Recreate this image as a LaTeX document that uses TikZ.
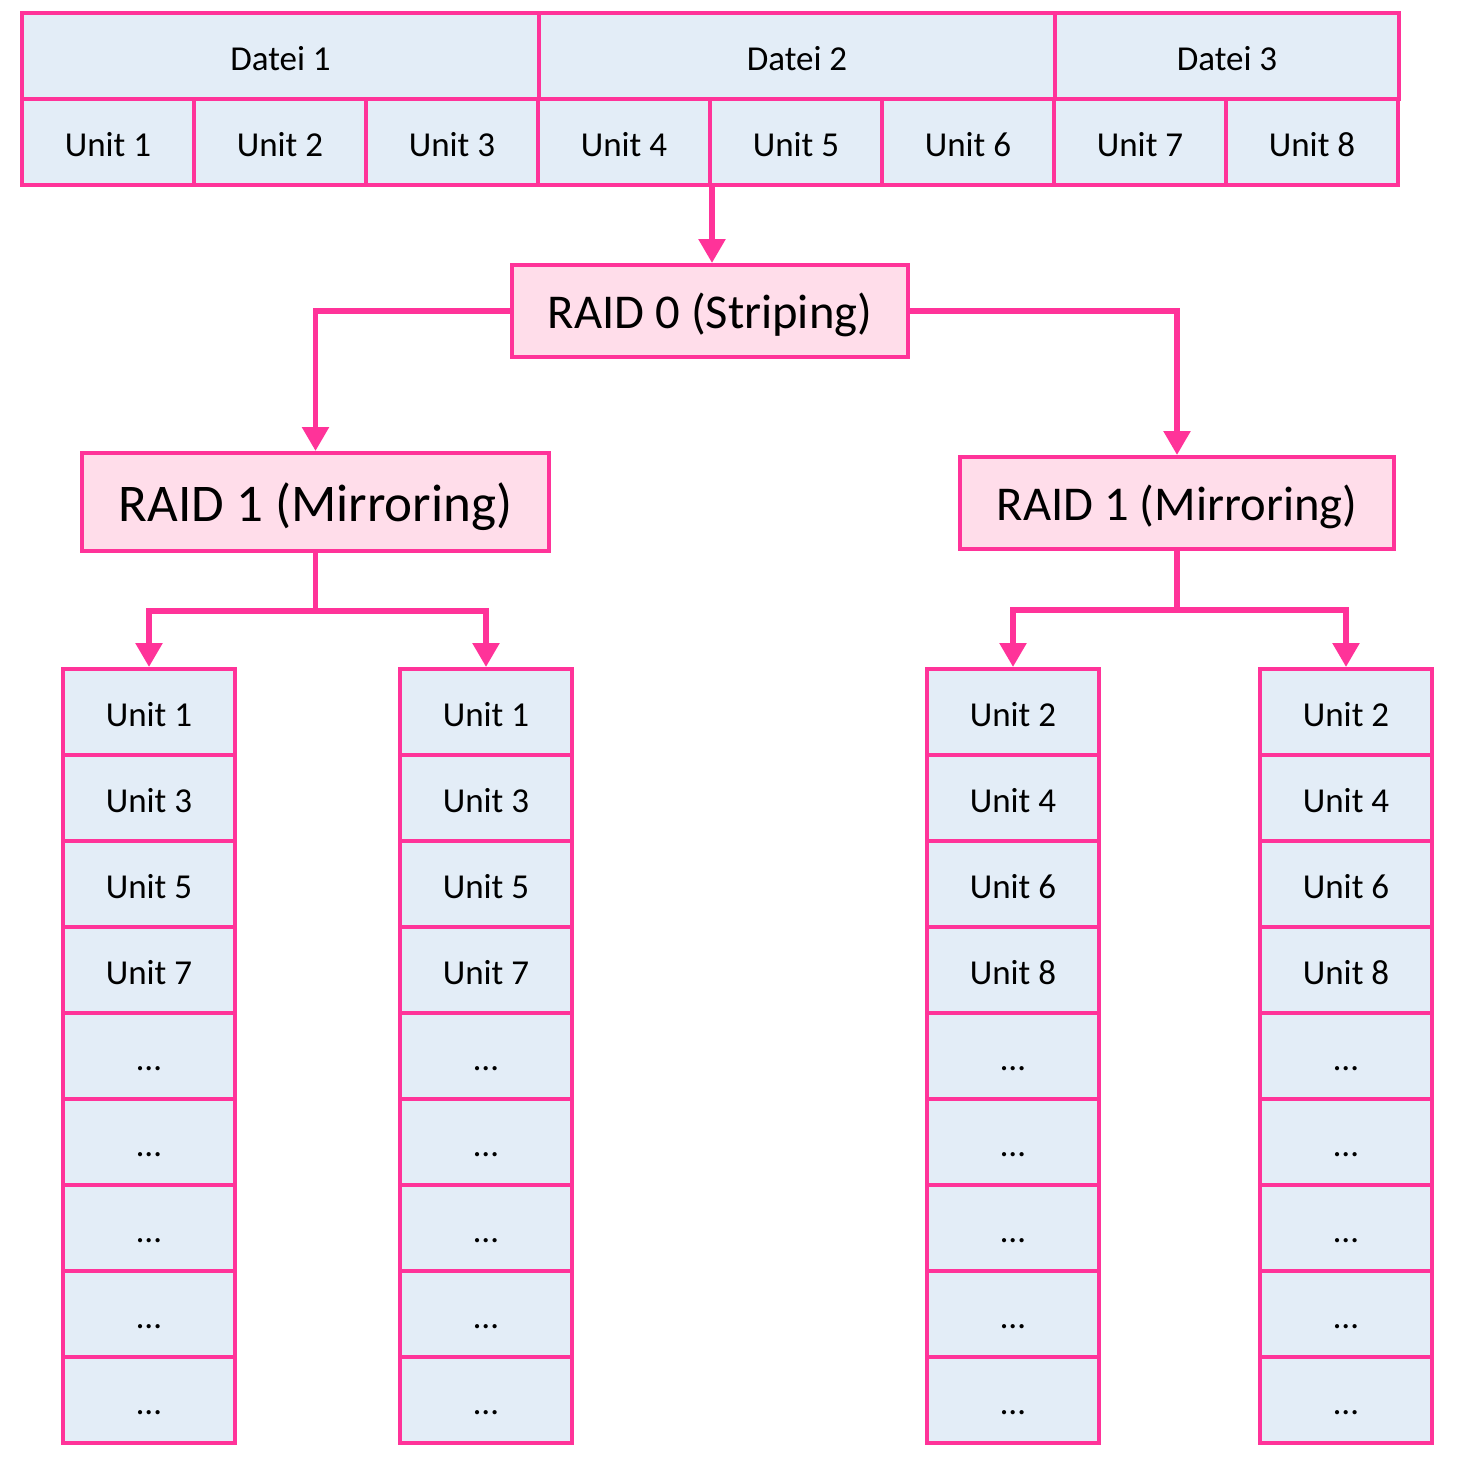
\documentclass[tikz,border=0pt]{standalone}
\usepackage{fontspec}
\setmainfont{Carlito}
\usetikzlibrary{arrows.meta}
\definecolor{pk}{HTML}{FF3399}
\definecolor{pkfill}{HTML}{FFDDEA}
\definecolor{blfill}{HTML}{E3EDF7}
\begin{document}
\begin{tikzpicture}[x=0.5pt,y=-0.5pt,
  cell/.style={draw=pk,fill=blfill,line width=2pt,inner sep=0pt,
    minimum height=43pt,font=\fontsize{17.5}{20}\selectfont,
    text height=14.1pt,text depth=0pt},
  raidbox/.style={draw=pk,fill=pkfill,line width=2pt,inner sep=0pt,text depth=0pt},
  arr/.style={draw=pk,line width=2.8pt,-{Triangle[width=13pt,length=12pt]}},
  conn/.style={draw=pk,line width=2.8pt}]
\useasboundingbox (0,0) rectangle (1466,1462);
% top: files
\node[cell,minimum width=258.5pt] (d1) at (280.5,56) {Datei 1};
\node[cell,minimum width=258pt] (d2) at (797,56) {Datei 2};
\node[cell,minimum width=172pt] (d3) at (1227,56) {Datei 3};
% top: units
\foreach \i in {1,...,8}{
  \node[cell,minimum width=86pt] (u\i) at ({22+172*(\i-0.5)},142) {Unit \i};
}
% RAID boxes
\node[raidbox,minimum width=198pt,minimum height=46pt,text height=17.4pt,
  font=\fontsize{24.3}{28}\selectfont] (r0) at (710,311) {RAID 0 (Striping)};
\node[raidbox,minimum width=233.5pt,minimum height=49pt,text height=19.7pt,
  font=\fontsize{26.5}{30}\selectfont] (r1l) at (315.5,502) {RAID 1 (Mirroring)};
\node[raidbox,minimum width=217pt,minimum height=46pt,text height=17.4pt,
  font=\fontsize{24.3}{28}\selectfont] (r1r) at (1177,503) {RAID 1 (Mirroring)};
% disk columns
\foreach \c/\x/\a/\b/\cc/\d in {1/149/1/3/5/7, 2/486/1/3/5/7, 3/1013/2/4/6/8, 4/1346/2/4/6/8}{
  \node[cell,minimum width=86pt] (c\c r1) at (\x,712) {Unit \a};
  \node[cell,minimum width=86pt] (c\c r2) at (\x,798) {Unit \b};
  \node[cell,minimum width=86pt] (c\c r3) at (\x,884) {Unit \cc};
  \node[cell,minimum width=86pt] (c\c r4) at (\x,970) {Unit \d};
  \foreach \k in {5,...,9}{
    \node[cell,minimum width=86pt] (c\c r\k) at (\x,{669+86*(\k-0.5)}) {…};
  }
}
% connectors
\draw[arr] (u4.south east) -- (u4.south east |- r0.north);
\draw[arr] (r0.west) -| (r1l.north);
\draw[arr] (r0.east) -| (r1r.north);
\path (r1l.south) ++(0,58) coordinate (jl);
\path (r1r.south) ++(0,59) coordinate (jr);
\draw[conn] (r1l.south) -- (jl);
\draw[conn] (r1r.south) -- (jr);
\draw[arr] (jl) -| (c1r1.north);
\draw[arr] (jl) -| (c2r1.north);
\draw[arr] (jr) -| (c3r1.north);
\draw[arr] (jr) -| (c4r1.north);
\end{tikzpicture}
\end{document}
